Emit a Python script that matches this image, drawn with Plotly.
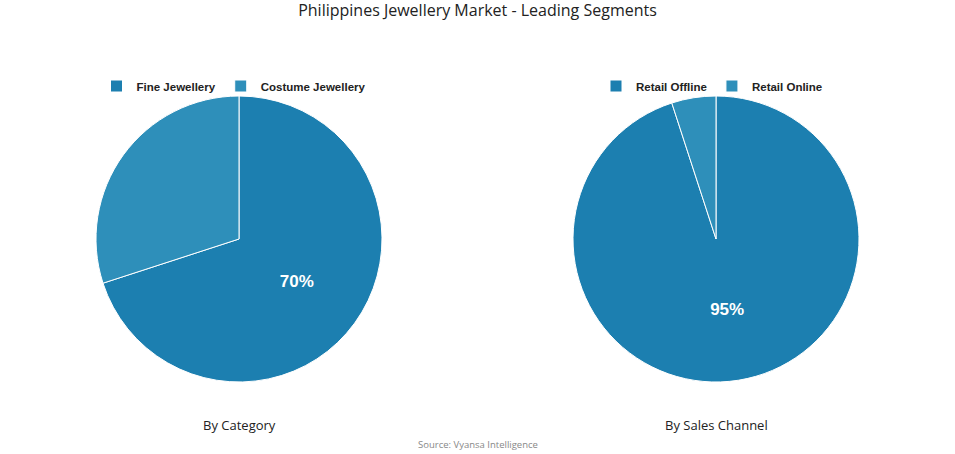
import plotly.graph_objects as go

title = "Philippines Jewellery Market - Leading Segments"
source = "Source: Vyansa Intelligence"

cat_labels = ["Fine Jewellery", "Costume Jewellery"]
cat_values = [70, 30]
cat_text = ["70%", ""]
cat_title = "By Category"

ch_labels = ["Retail Offline", "Retail Online"]
ch_values = [95, 5]
ch_text = ["95%", ""]
ch_title = "By Sales Channel"

colors = ["#1c7fb0", "#2e8fba"]

W, H = 955, 454

fig = go.Figure()
fig.add_trace(go.Pie(
    labels=cat_labels, values=cat_values, text=cat_text,
    textinfo="text", textposition="inside", insidetextorientation="horizontal",
    sort=False, direction="clockwise", rotation=0,
    marker=dict(colors=colors, line=dict(color="white", width=1)),
    textfont=dict(family="Liberation Sans", size=17, color="white", weight="bold"),
    domain=dict(x=[96/W, 382/W], y=[(H-382)/H, (H-96)/H]),
    legend="legend", hoverinfo="label+percent",
))
fig.add_trace(go.Pie(
    labels=ch_labels, values=ch_values, text=ch_text,
    textinfo="text", textposition="inside", insidetextorientation="horizontal",
    sort=False, direction="clockwise", rotation=0,
    marker=dict(colors=colors, line=dict(color="white", width=1)),
    textfont=dict(family="Liberation Sans", size=17, color="white", weight="bold"),
    domain=dict(x=[573/W, 859/W], y=[(H-382)/H, (H-96)/H]),
    legend="legend2", hoverinfo="label+percent",
))

legend_common = dict(
    orientation="h", xanchor="center", yanchor="middle", y=1-86/H,
    font=dict(family="Liberation Sans", size=11.5, color="#222", weight="bold"),
    bgcolor="rgba(0,0,0,0)", itemwidth=30, tracegroupgap=0,
)

fig.update_layout(
    width=W, height=H,
    margin=dict(l=0, r=0, t=0, b=0),
    paper_bgcolor="white", plot_bgcolor="white",
    title=dict(text=title, x=0.5, xanchor="center", y=1-10/H, yanchor="middle",
               font=dict(family="Open Sans", size=16, color="#222")),
    legend=dict(x=234/W, **legend_common),
    legend2=dict(x=712/W, **legend_common),
    annotations=[
        dict(text=cat_title, x=239/W, y=1-425/H, xref="paper", yref="paper",
             xanchor="center", yanchor="middle",
             showarrow=False, font=dict(family="Open Sans", size=13, color="#222")),
        dict(text=ch_title, x=716/W, y=1-425/H, xref="paper", yref="paper",
             xanchor="center", yanchor="middle",
             showarrow=False, font=dict(family="Open Sans", size=13, color="#222")),
        dict(text=source, x=0.5, y=1-444/H, xref="paper", yref="paper",
             xanchor="center", yanchor="middle",
             showarrow=False, font=dict(family="Open Sans", size=9.5, color="#888")),
    ],
    showlegend=True,
)

fig.write_html("out.html", config={"displayModeBar": False},
               post_script="document.body.style.margin='0';")
